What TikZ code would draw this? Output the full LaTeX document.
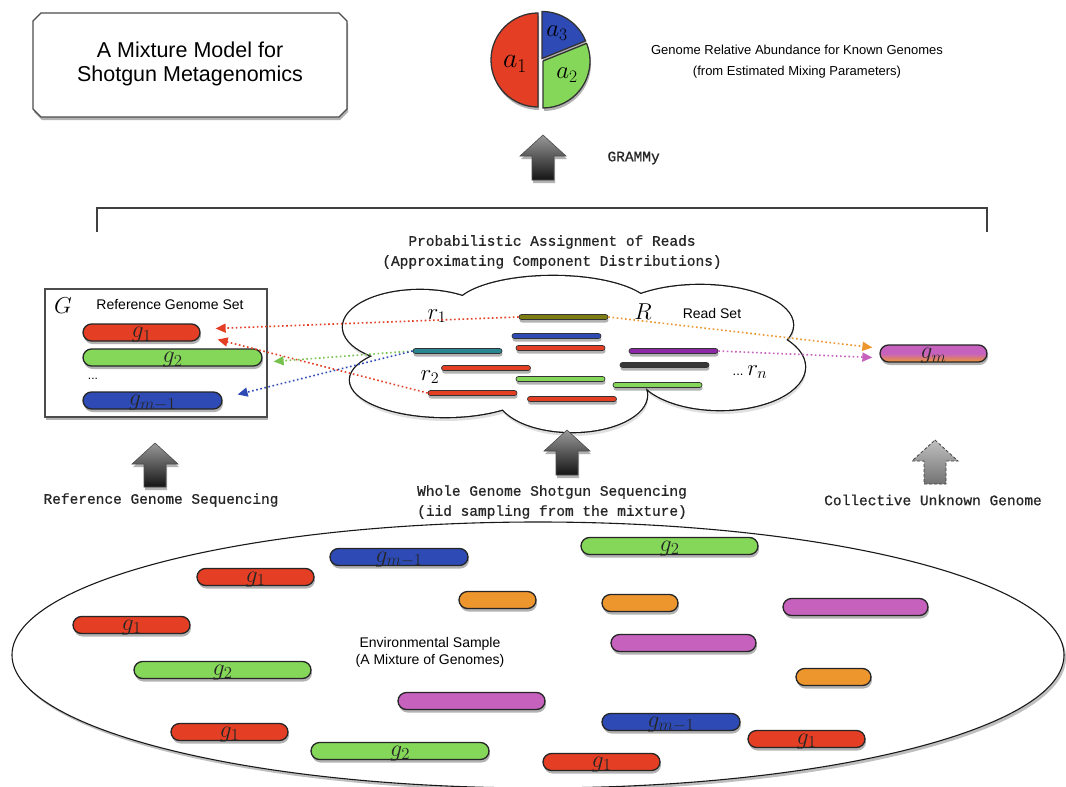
\RequirePackage{fix-cm}
\documentclass[tikz,border=0pt]{standalone}
\usepackage{fontspec}
\newfontfamily\sansf{Liberation Sans}
\newfontfamily\monof[FakeBold=0.8]{Liberation Mono}
\usetikzlibrary{shapes.misc,shapes.geometric,shadows,arrows.meta,calc}
\definecolor{gred}{RGB}{228,62,36}
\definecolor{ggreen}{RGB}{132,215,88}
\definecolor{gblue}{RGB}{46,74,180}
\definecolor{gorange}{RGB}{238,150,46}
\definecolor{gmag}{RGB}{198,98,190}
\definecolor{golive}{RGB}{125,125,20}
\definecolor{gteal}{RGB}{40,135,145}
\definecolor{gpurple}{RGB}{140,40,165}
\definecolor{gdark}{RGB}{55,55,55}
\tikzset{
  myshadow/.style={drop shadow={shadow xshift=1pt, shadow yshift=-3pt, opacity=0.3, fill=black}},
  genebar/.style={rounded rectangle, draw=black!85, line width=1.3pt, inner sep=0pt,
    minimum height=17pt, text depth=0pt, text=black!85, myshadow,
    font=\fontsize{24}{24}\selectfont},
  readbar/.style={rounded rectangle, draw=black!80, line width=0.7pt, inner sep=0pt,
    minimum height=5pt, minimum width=89pt,
    drop shadow={shadow xshift=0.5pt, shadow yshift=-3pt, opacity=0.3, fill=black}},
  darrow/.style={line width=1.6pt, dash pattern=on 1.6pt off 2.6pt,
    -{Triangle[length=10pt, width=9pt]}},
  sanslab/.style={font=\sansf\fontsize{14}{17}\selectfont, align=center},
  monolab/.style={font=\monof\fontsize{14.5}{20}\selectfont, align=center, text=black!85},
  mathlab/.style={font=\fontsize{23}{23}\selectfont},
  blockstyle/.style={draw=black!70, line width=0.6pt, top color=black!40, bottom color=black!92, myshadow},
  dashblock/.style={draw=black!75, line width=0.8pt, densely dashed, top color=black!25, bottom color=black!55},
}
\newcommand\blockup[4]{%
  \path[#4] (#1,#2) -- ({#1+23},{#2+21}) -- ({#1+11},{#2+21}) -- ({#1+11},#3)
    -- ({#1-11},#3) -- ({#1-11},{#2+21}) -- ({#1-23},{#2+21}) -- cycle;}
\begin{document}
\begin{tikzpicture}[x=1pt,y=-1pt]
\useasboundingbox (0,0) rectangle (1066,787);
\fill[white] (0,0) rectangle (1066,787);

% title box
\path[draw=black!70, line width=1.2pt, fill=white, myshadow]
  (41,13) -- (339,13) -- (347,21) -- (347,109) -- (339,117) -- (41,117) -- (33,109) -- (33,21) -- cycle;
\node[font=\sansf\fontsize{21.5}{23.5}\selectfont, align=center] (title) at (190,64)
  {A Mixture Model for\\Shotgun Metagenomics};

% pie
\filldraw[fill=gred, draw=black!80, line width=1.3pt, myshadow] (538,60) -- +(90:47) arc[start angle=90, end angle=270, radius=47] -- cycle;
\filldraw[fill=gblue, draw=black!80, line width=1.3pt, myshadow] (542,58.5) -- +(-90:47) arc[start angle=-90, end angle=-22, radius=47] -- cycle;
\filldraw[fill=ggreen, draw=black!80, line width=1.3pt, myshadow] (543,61) -- +(-22:47) arc[start angle=-22, end angle=90, radius=47] -- cycle;
\node[font=\fontsize{28}{28}\selectfont] (a1) at (515,64) {$a_1$};
\node[font=\fontsize{25}{25}\selectfont] (a3) at (557,33) {$a_3$};
\node[font=\fontsize{25}{25}\selectfont] (a2) at (567,75) {$a_2$};
\node[font=\sansf\fontsize{13}{21}\selectfont, align=center] (abund) at (797,62)
  {Genome Relative Abundance for Known Genomes\\(from Estimated Mixing Parameters)};

% GRAMMy arrow
\blockup{543}{135}{180}{blockstyle}
\node[monolab, anchor=west] (grammy) at (604,158) {GRAMMy};

% bracket
\coordinate (bl) at (97,232);
\coordinate (br) at (987,232);
\draw[line width=1.5pt, black!75] (bl) -- (97,208) -- (987,208) -- (br);
\node[monolab] (prob) at (552,252) {Probabilistic Assignment of Reads\\(Approximating Component Distributions)};

% cloud
\foreach \cx/\cy/\rx/\ry in {420/327/77/37, 553/310/99/34, 700/325/93/40, 720/367/85/43, 572/395/75/37, 445/380/95/37, 577/352/160/40}
  \fill[black, opacity=0.12] (\cx+1,\cy+4) ellipse [x radius=\rx, y radius=\ry];
\foreach \cx/\cy/\rx/\ry in {420/327/77/37, 553/310/99/34, 700/325/93/40, 720/367/85/43, 572/395/75/37, 445/380/95/37, 577/352/160/40}
  \draw[black!90, line width=2.6pt] (\cx,\cy) ellipse [x radius=\rx, y radius=\ry];
\foreach \cx/\cy/\rx/\ry in {420/327/77/37, 553/310/99/34, 700/325/93/40, 720/367/85/43, 572/395/75/37, 445/380/95/37, 577/352/160/40}
  \fill[white] (\cx,\cy) ellipse [x radius=\rx, y radius=\ry];

% reads
\node[readbar, fill=golive] (rOlive) at (563.5,317) {};
\node[readbar, fill=gblue] (rBlue) at (556.5,336) {};
\node[readbar, fill=gred] (rRedA) at (560.5,348) {};
\node[readbar, fill=gteal] (rTeal) at (457.5,351) {};
\node[readbar, fill=gred] (rRedB) at (486,368) {};
\node[readbar, fill=ggreen] (rGreenA) at (560.5,379) {};
\node[readbar, fill=gred] (rRedC) at (472.5,393) {};
\node[readbar, fill=gred] (rRedD) at (572,399) {};
\node[readbar, fill=gpurple] (rPurple) at (673.5,351) {};
\node[readbar, fill=gdark] (rGray) at (664.5,365) {};
\node[readbar, fill=ggreen] (rGreenB) at (657.5,385) {};

\node[mathlab] (r1) at (437,316) {$r_1$};
\node[mathlab] (R) at (643,312) {$R$};
\node[sanslab] (readset) at (712,313) {Read Set};
\node[mathlab] (r2) at (430,377) {$r_2$};
\node[mathlab] (rn) at (750,372) {{\sansf\fontsize{13}{13}\selectfont ...}$\,r_n$};

% reference genome set
\node[draw=black!70, line width=1.4pt, fill=white, minimum width=222pt, minimum height=128pt, myshadow] (Gbox) at (156,353) {};
\node[mathlab] (G) at (63,306) {$G$};
\node[sanslab] (refset) at (170,304) {Reference Genome Set};
\node[genebar, fill=gred, minimum width=117pt] (g1ref) at (141.5,332.5) {$g_1$};
\node[genebar, fill=ggreen, minimum width=179pt] (g2ref) at (172.5,357.5) {$g_2$};
\node[font=\sansf\fontsize{12}{12}\selectfont] (dots) at (93,379) {...};
\node[genebar, fill=gblue, minimum width=139pt] (gm1ref) at (152.5,400.5) {$g_{m-1}$};

% unknown genome
\node[genebar, top color=gmag, bottom color=gorange, middle color=gmag, minimum width=107pt] (gm) at (933.5,353.5) {$g_m$};

% dotted assignment arrows
\draw[darrow, gred] (rOlive.west) -- ($(g1ref.east)+(15,-4)$);
\draw[darrow, gred] (rRedC.west) -- ($(g1ref.east)+(17,7)$);
\draw[darrow, ggreen!90!black] (rTeal.west) -- ($(g2ref.east)+(11,4)$);
\draw[darrow, gblue] (rTeal.west) -- ($(gm1ref.east)+(15,-6)$);
\draw[darrow, gorange] (rOlive.east) -- ($(gm.west)+(-7,-6)$);
\draw[darrow, gmag] (rPurple.east) -- ($(gm.west)+(-7,4)$);

% sequencing arrows
\blockup{155}{443}{487}{blockstyle}
\blockup{567}{430}{475}{blockstyle}
\blockup{935}{440}{484}{dashblock}
\node[monolab] (refseq) at (161,500) {Reference Genome Sequencing};
\node[monolab] (wgs) at (552,502) {Whole Genome Shotgun Sequencing\\(iid sampling from the mixture)};
\node[monolab] (cug) at (933,500) {Collective Unknown Genome};

% environmental sample
\node[draw=black!90, line width=1.1pt, fill=white, ellipse, minimum width=1052pt, minimum height=266pt,
  drop shadow={shadow xshift=2pt, shadow yshift=-3pt, opacity=0.25, fill=black}] (env) at (538,655) {};
\node[sanslab] (envlab) at (430,652) {Environmental Sample\\(A Mixture of Genomes)};

\node[genebar, fill=gblue, minimum width=138pt] (e1) at (399,557) {$g_{m-1}$};
\node[genebar, fill=gred, minimum width=117pt] (e2) at (255.5,577) {$g_1$};
\node[genebar, fill=gred, minimum width=117pt] (e3) at (131.5,625) {$g_1$};
\node[genebar, fill=ggreen, minimum width=177pt] (e4) at (222.5,670) {$g_2$};
\node[genebar, fill=gorange, minimum width=77pt] (e5) at (497.5,600) {};
\node[genebar, fill=gmag, minimum width=147pt] (e6) at (471.5,701) {};
\node[genebar, fill=gred, minimum width=117pt] (e7) at (229.5,732) {$g_1$};
\node[genebar, fill=ggreen, minimum width=178pt] (e8) at (400,751) {$g_2$};
\node[genebar, fill=ggreen, minimum width=177pt] (e9) at (669.5,546) {$g_2$};
\node[genebar, fill=gorange, minimum width=76pt] (e10) at (640,603) {};
\node[genebar, fill=gmag, minimum width=145pt] (e11) at (855.5,607) {};
\node[genebar, fill=gmag, minimum width=145pt] (e12) at (683.5,643) {};
\node[genebar, fill=gorange, minimum width=75pt] (e13) at (833.5,677) {};
\node[genebar, fill=gblue, minimum width=138pt] (e14) at (671,722) {$g_{m-1}$};
\node[genebar, fill=gred, minimum width=117pt] (e15) at (806.5,739) {$g_1$};
\node[genebar, fill=gred, minimum width=117pt] (e16) at (601.5,762) {$g_1$};
\end{tikzpicture}
\end{document}
